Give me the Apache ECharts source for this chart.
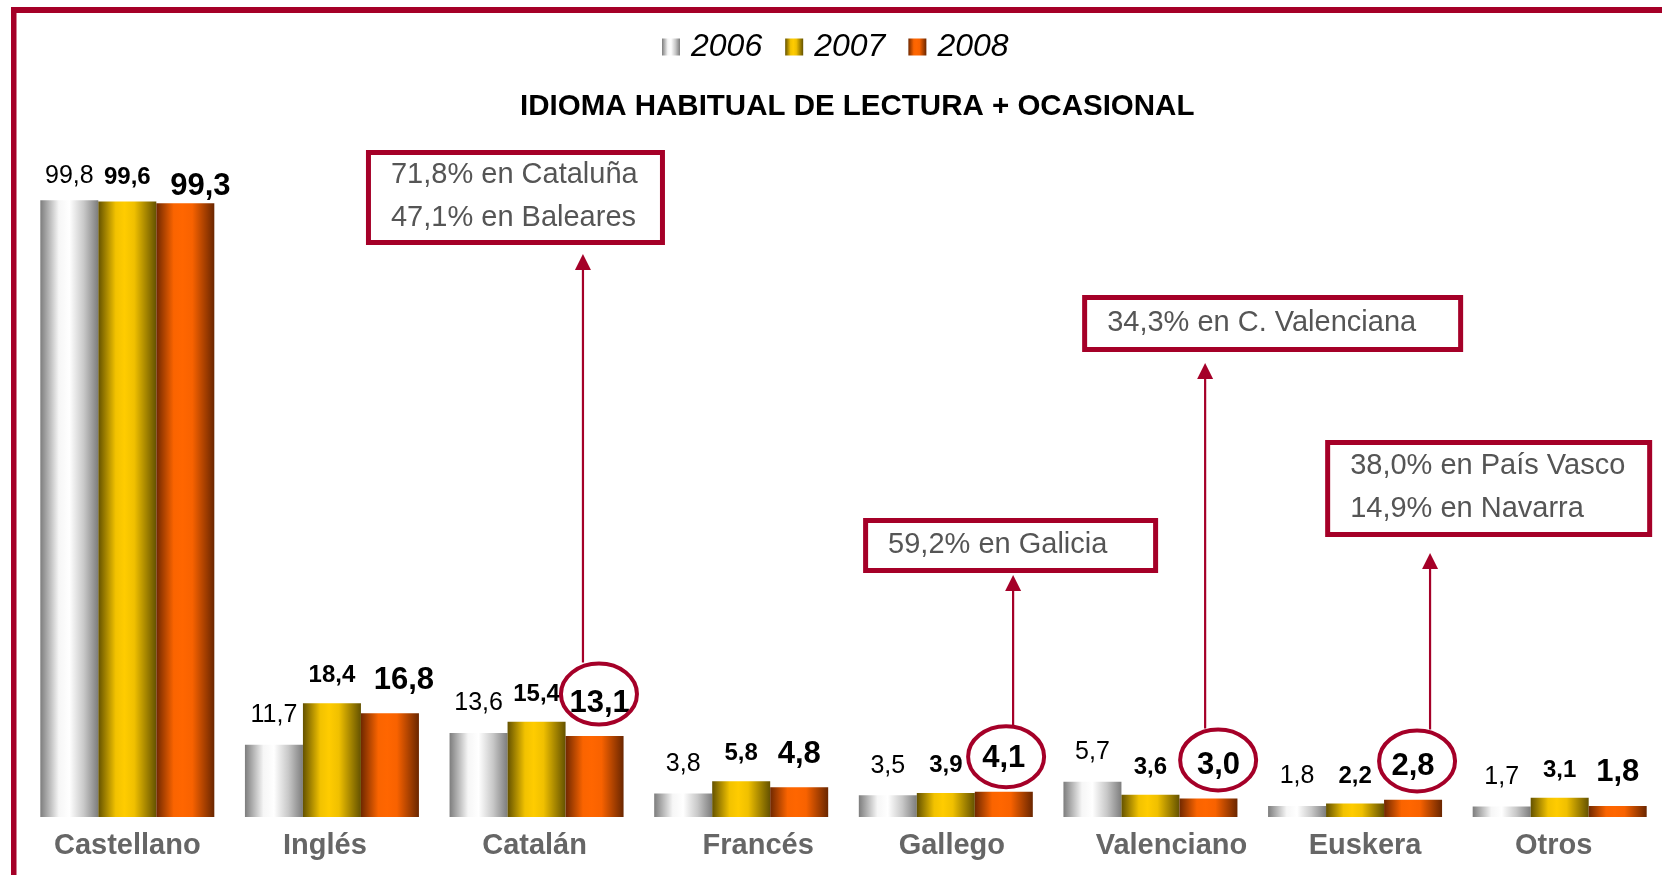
<!DOCTYPE html>
<html><head><meta charset="utf-8">
<script src="https://cdn.jsdelivr.net/npm/echarts@6/dist/echarts.min.js"></script>
<style>html,body{margin:0;padding:0;background:#fff}#c{width:1662px;height:875px}</style>
</head><body><div id="c"></div>
<script>
// ---- data ----
const categories = ['Castellano','Inglés','Catalán','Francés','Gallego','Valenciano','Euskera','Otros'];
const years = ['2006','2007','2008'];
const values2006 = [99.8, 11.7, 13.6, 3.8, 3.5, 5.7, 1.8, 1.7];
const values2007 = [99.6, 18.4, 15.4, 5.8, 3.9, 3.6, 2.2, 3.1];
const values2008 = [99.3, 16.8, 13.1, 4.8, 4.1, 3.0, 2.8, 1.8];
const titleText = 'IDIOMA HABITUAL DE LECTURA + OCASIONAL';
const noteCategories = ['Catalán','Gallego','Valenciano','Euskera'];
const noteLines = [
  ['71,8% en Cataluña','47,1% en Baleares'],
  ['59,2% en Galicia'],
  ['34,3% en C. Valenciana'],
  ['38,0% en País Vasco','14,9% en Navarra']
];

// ---- layout / style ----
const RED = '#a50028';
const FONT = '"Liberation Sans", Arial, Helvetica, sans-serif';
const BAR_W = 58;
const labelShift = [0, -7, -2, 17, 6, 21, 10, -6];
const label2008Dx = [15, 14, 5, 0, 0, 10, 0, 0];
const noteLayout = [
  {boxDx:-228.6, boxTop:150, boxW:299, boxH:95, arrowDx:-11.6, gap:9,  ellDx:4.4, ellDy:42},
  {boxDx:-140.7, boxTop:518, boxW:295, boxH:55, arrowDx:9.3,   gap:2,  ellDx:2.3, ellDy:35},
  {boxDx:-126.3, boxTop:295, boxW:381, boxH:57, arrowDx:-3.3,  gap:11, ellDx:9.7, ellDy:38.5},
  {boxDx:-87.9,  boxTop:440, boxW:327, boxH:97, arrowDx:17,    gap:16, ellDx:4,   ellDy:38.7}
];

function grad(stops){
  return {type:'linear', x:0, y:0, x2:1, y2:0,
    colorStops: stops.map(s => ({offset:s[0], color:s[1]}))};
}
const colors = [
  grad([[0,'#7d7d7d'],[0.32,'#f6f6f6'],[0.5,'#ffffff'],[0.75,'#c8c8c8'],[1,'#7d7d7d']]),
  grad([[0,'#645200'],[0.3,'#f2c200'],[0.45,'#ffcc00'],[0.62,'#f0c000'],[1,'#645200']]),
  grad([[0,'#702800'],[0.3,'#fa6400'],[0.45,'#ff6600'],[0.62,'#f86200'],[1,'#6a2600']])
];
const fmt = p => Number(p.value).toFixed(1).replace('.', ',');
const labelStyles = [
  {fontSize:25, fontWeight:'normal', distance:17, first:12},
  {fontSize:24, fontWeight:'bold', distance:15.5, first:12.5},
  {fontSize:31, fontWeight:'bold', distance:17.5, first:1}
];

const seriesValues = [values2006, values2007, values2008];
const series = seriesValues.map((vals, si) => ({
  name: years[si],
  type: 'bar',
  barWidth: BAR_W,
  barGap: '0%',
  itemStyle: {color: colors[si]},
  label: {
    show: true, position: 'top', formatter: fmt, color: '#000',
    fontFamily: FONT, fontSize: labelStyles[si].fontSize,
    fontWeight: labelStyles[si].fontWeight, distance: labelStyles[si].distance
  },
  data: vals.map((v, i) => {
    const lab = {};
    if (i === 0) lab.distance = labelStyles[si].first;
    if (si === 2 && label2008Dx[i]) lab.offset = [label2008Dx[i], 0];
    return Object.keys(lab).length ? {value: v, label: lab} : v;
  })
}));

const chart = echarts.init(document.getElementById('c'), null, {renderer:'canvas'});
chart.setOption({
  animation: false,
  backgroundColor: '#fff',
  title: {
    text: titleText, left: 520, top: 92, padding: 0,
    textStyle: {fontFamily: FONT, fontSize: 29.5, fontWeight: 'bold', color: '#000'}
  },
  legend: {
    data: years, left: 657, top: 26, itemWidth: 18, itemHeight: 17, itemGap: 23,
    icon: 'rect',
    textStyle: {fontFamily: FONT, fontSize: 32, fontStyle: 'italic', color: '#000', padding: [0,0,0,6]}
  },
  grid: {left: 25, right: 0, top: 199, bottom: 58, containLabel: false},
  xAxis: {
    type: 'category',
    data: categories.map((c, i) => ({
      value: c,
      textStyle: {padding: labelShift[i] >= 0 ? [0,0,0,2*labelShift[i]] : [0,-2*labelShift[i],0,0]}
    })),
    axisLine: {show: false}, axisTick: {show: false},
    axisLabel: {interval: 0, margin: 14, fontFamily: FONT, fontSize: 29, fontWeight: 'bold', color: '#666'}
  },
  yAxis: {type: 'value', min: 0, max: 100, show: false, splitLine: {show: false}},
  series: series
});

// ---- annotations anchored to the 2008 bars ----
const g = [
  {type:'rect', shape:{x:11, y:7, width:1651, height:6}, style:{fill:RED}, z:100},
  {type:'rect', shape:{x:11, y:7, width:5.5, height:868}, style:{fill:RED}, z:100}
];
noteCategories.forEach((cat, k) => {
  const L = noteLayout[k];
  const idx = categories.indexOf(cat);
  const v = values2008[idx];
  const p = chart.convertToPixel({gridIndex:0}, [cat, v]);
  const barCx = p[0] + BAR_W;
  const barTop = p[1];
  const ecx = barCx + L.ellDx, ecy = barTop - L.ellDy;
  const rx = 38, ry = 30.5;
  const bx = barCx + L.boxDx;
  g.push({type:'rect', shape:{x:bx+2.5, y:L.boxTop+2.5, width:L.boxW-5, height:L.boxH-5},
    style:{fill:'#fff', stroke:RED, lineWidth:5}, z:50});
  const lines = noteLines[k];
  const cy = L.boxTop + L.boxH/2 - 1;
  lines.forEach((t, j) => {
    const ty = lines.length === 1 ? cy : cy + (j === 0 ? -21.5 : 21.5);
    g.push({type:'text', style:{text:t, x:bx+25, y:ty, fill:'#555', fontFamily:FONT, fontSize:29,
      align:'left', verticalAlign:'middle'}, z:51});
  });
  const ax = barCx + L.arrowDx;
  const tip = L.boxTop + L.boxH + L.gap;
  g.push({type:'polygon', shape:{points:[[ax, tip],[ax-8, tip+16],[ax+8, tip+16]]}, style:{fill:RED}, z:52});
  g.push({type:'line', shape:{x1:ax, y1:tip+14, x2:ax, y2:ecy - ry - 1}, style:{stroke:RED, lineWidth:2.2}, z:52});
  g.push({type:'ellipse', shape:{cx:ecx, cy:ecy, rx:rx, ry:ry}, style:{fill:null, stroke:RED, lineWidth:4}, z:53});
});
chart.setOption({graphic: g});
</script>
</body></html>
